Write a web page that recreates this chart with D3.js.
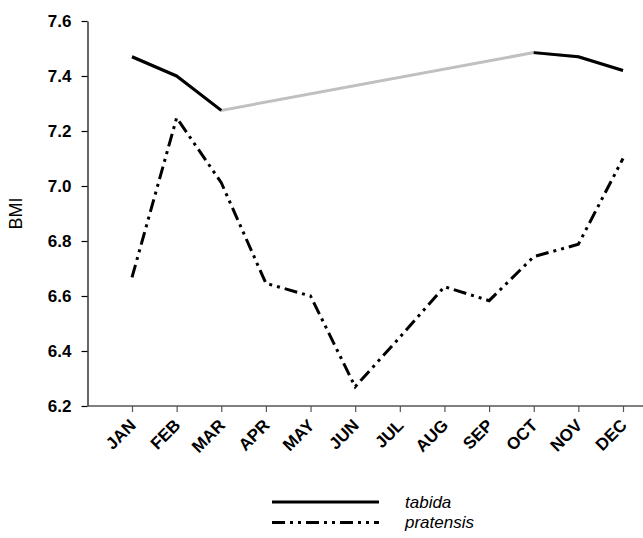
<!DOCTYPE html>
<html>
<head>
<meta charset="utf-8">
<script src="https://cdn.jsdelivr.net/npm/d3@7/dist/d3.min.js"></script>
<style>
  html, body { margin: 0; padding: 0; background: #fff; }
  svg { display: block; font-family: Arial, "Liberation Sans", Helvetica, sans-serif; }
</style>
</head>
<body>
<svg id="chart" width="643" height="538"></svg>
<script>
// Monthly BMI for two species
const months = ["JAN","FEB","MAR","APR","MAY","JUN","JUL","AUG","SEP","OCT","NOV","DEC"];
const tabida = [7.47, 7.40, 7.275, null, null, null, null, null, null, 7.485, 7.47, 7.42];
const pratensis = [6.668, 7.248, 7.012, 6.646, 6.60, 6.27, 6.45, 6.634, 6.583, 6.743, 6.788, 7.10];
const yTicks = [6.2, 6.4, 6.6, 6.8, 7.0, 7.2, 7.4, 7.6];
const seriesNames = ["tabida", "pratensis"];

const svg = d3.select("#chart");

const plot = { left: 87.5, right: 643, top: 21, bottom: 406 };

const x = d3.scalePoint().domain(months).range([132, 623]);
const y = d3.scaleLinear().domain([6.2, 7.6]).range([plot.bottom, plot.top]);

// y axis
const yAxis = svg.append("g")
  .attr("transform", `translate(${plot.left},0)`)
  .call(d3.axisLeft(y).tickValues(yTicks).tickFormat(d3.format(".1f")).tickSize(6).tickSizeOuter(0).tickPadding(10));
yAxis.select(".domain").attr("stroke", "#000").attr("stroke-width", 1.2);
yAxis.selectAll(".tick line").attr("stroke", "#000").attr("stroke-width", 1.2);
yAxis.selectAll(".tick text")
  .attr("font-size", 17).attr("font-weight", "bold").attr("fill", "#000")
  .attr("font-family", "Arial, 'Liberation Sans', sans-serif");

// x axis
const xAxis = svg.append("g")
  .attr("transform", `translate(0,${plot.bottom})`)
  .call(d3.axisBottom(x).tickSize(6).tickSizeOuter(0));
xAxis.select(".domain").remove();
xAxis.append("line")
  .attr("x1", plot.left).attr("x2", plot.right)
  .attr("y1", 0).attr("y2", 0)
  .attr("stroke", "#555").attr("stroke-width", 1.5);
xAxis.selectAll(".tick line").attr("stroke", "#555").attr("stroke-width", 1.2);
xAxis.selectAll(".tick text")
  .attr("font-size", 17).attr("font-weight", "bold").attr("fill", "#000")
  .attr("font-family", "Arial, 'Liberation Sans', sans-serif")
  .attr("text-anchor", "end")
  .attr("dy", 0)
  .attr("transform", "translate(-2,14) rotate(-45)");

// y axis title
svg.append("text")
  .attr("transform", `translate(22,${(plot.top + plot.bottom) / 2}) rotate(-90)`)
  .attr("text-anchor", "middle")
  .attr("font-size", 18)
  .text("BMI");

const line = d3.line()
  .defined(d => d.v != null)
  .x(d => x(d.m))
  .y(d => y(d.v));

const tabidaPts = months.map((m, i) => ({ m, v: tabida[i] }));
const pratensisPts = months.map((m, i) => ({ m, v: pratensis[i] }));

// grey bridge across the months with no tabida sample
svg.append("path")
  .datum(tabidaPts.filter(d => d.v != null))
  .attr("fill", "none")
  .attr("stroke", "#c0c0c0")
  .attr("stroke-width", 3)
  .attr("d", line);

svg.append("path")
  .datum(tabidaPts)
  .attr("fill", "none")
  .attr("stroke", "#000")
  .attr("stroke-width", 3)
  .attr("stroke-linejoin", "round")
  .attr("d", line);

const dashDotDot = "13,5,3,5,3,5";
svg.append("path")
  .datum(pratensisPts)
  .attr("fill", "none")
  .attr("stroke", "#000")
  .attr("stroke-width", 3)
  .attr("stroke-dasharray", dashDotDot)
  .attr("d", line);

// legend
const legend = svg.append("g");
const legendStyles = [{ dash: null }, { dash: dashDotDot }];
seriesNames.forEach((name, i) => {
  const ly = 502 + i * 20.5;
  legend.append("line")
    .attr("x1", 272).attr("x2", 379)
    .attr("y1", ly).attr("y2", ly)
    .attr("stroke", "#000").attr("stroke-width", 3)
    .attr("stroke-dasharray", legendStyles[i].dash);
  legend.append("text")
    .attr("x", 405).attr("y", ly + 5.5)
    .attr("font-size", 17)
    .attr("font-style", "italic")
    .text(name);
});
</script>
</body>
</html>
